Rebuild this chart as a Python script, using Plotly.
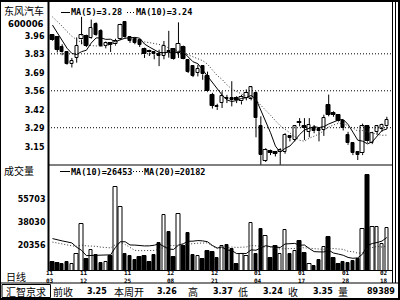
import plotly.graph_objects as go
import numpy as np

# ---------------- data ----------------
date_month = ["11", "11", "11", "12", "12", "01", "01", "01", "02"]
date_day = ["03", "12", "25", "08", "21", "04", "17", "28", "18"]
date_idx = [0, 7, 16, 25, 34, 43, 52, 61, 69]

open_ = [3.965, 3.95, 3.88, 3.84, 3.755, 3.80, 3.935, 3.96, 3.945, 4.047,
         4.00, 3.888, 3.907, 3.90, 3.94, 4.06, 3.953, 3.94, 3.93, 3.863,
         3.85, 3.84, 3.826, 3.814, 3.85, 3.865, 3.839, 3.88, 3.785, 3.74,
         3.69, 3.74, 3.667, 3.532, 3.45, 3.471, 3.51, 3.505, 3.505, 3.483,
         3.508, 3.50, 3.545, 3.30, 3.05, 3.12, 3.115, 3.11, 3.115, 3.23,
         3.20, 3.335, 3.30, 3.26, 3.29, 3.28, 3.275, 3.459, 3.40, 3.385,
         3.336, 3.238, 3.177, 3.115, 3.104, 3.30, 3.177, 3.26, 3.28, 3.30]
high = [3.975, 3.96, 3.90, 3.85, 3.80, 3.95, 4.10, 3.97, 4.08, 4.06,
        4.01, 3.92, 3.915, 3.94, 4.05, 4.07, 3.96, 3.95, 3.935, 3.875,
        3.86, 3.843, 3.86, 3.924, 3.998, 3.87, 4.06, 3.89, 3.79, 3.745,
        3.75, 3.745, 3.70, 3.545, 3.465, 3.556, 3.53, 3.63, 3.52, 3.53,
        3.57, 3.595, 3.555, 3.373, 3.14, 3.13, 3.12, 3.14, 3.25, 3.235,
        3.31, 3.36, 3.36, 3.36, 3.31, 3.29, 3.385, 3.532, 3.41, 3.39,
        3.345, 3.26, 3.185, 3.12, 3.32, 3.31, 3.26, 3.31, 3.32, 3.37]
low = [3.925, 3.84, 3.82, 3.75, 3.73, 3.765, 3.90, 3.88, 3.94, 3.96,
       3.88, 3.87, 3.843, 3.89, 3.93, 3.94, 3.91, 3.90, 3.88, 3.80,
       3.814, 3.79, 3.74, 3.79, 3.802, 3.785, 3.80, 3.79, 3.69, 3.66,
       3.665, 3.64, 3.55, 3.43, 3.42, 3.434, 3.47, 3.446, 3.47, 3.46,
       3.49, 3.49, 3.22, 3.02, 3.04, 3.09, 3.08, 3.02, 3.10, 3.19,
       3.19, 3.30, 3.20, 3.22, 3.25, 3.19, 3.23, 3.373, 3.37, 3.33,
       3.27, 3.165, 3.09, 3.054, 3.09, 3.18, 3.17, 3.24, 3.26, 3.28]
close = [3.93, 3.86, 3.84, 3.755, 3.78, 3.89, 3.965, 3.89, 4.02, 3.966,
         3.89, 3.912, 3.895, 3.925, 4.04, 3.95, 3.924, 3.912, 3.895, 3.826,
         3.84, 3.826, 3.814, 3.887, 3.84, 3.79, 3.905, 3.795, 3.70, 3.67,
         3.72, 3.68, 3.556, 3.451, 3.44, 3.52, 3.50, 3.495, 3.49, 3.516,
         3.545, 3.584, 3.36, 3.09, 3.128, 3.105, 3.10, 3.125, 3.237, 3.215,
         3.30, 3.325, 3.29, 3.31, 3.265, 3.265, 3.36, 3.385, 3.385, 3.336,
         3.287, 3.177, 3.104, 3.09, 3.30, 3.19, 3.25, 3.30, 3.31, 3.35]
volume = [7800, 7400, 6100, 8300, 6600, 14200, 37000, 9900, 17200, 12900,
          7100, 8300, 12100, 64700, 49100, 14200, 12400, 9100, 11600, 12100,
          7800, 12900, 22500, 43800, 30600, 11600, 44500, 20000, 30100, 12900,
          12400, 10400, 16200, 15400, 11200, 19700, 20500, 18000, 6100, 14200,
          12100, 37400, 13700, 33200, 27800, 11200, 19700, 13700, 32400, 14200,
          16500, 24000, 15000, 6600, 4550, 9100, 19500, 26500, 11200, 6160,
          7740, 7400, 8600, 9900, 33000, 74000, 34500, 34200, 21800, 33389]

# closes / volumes before the visible window (needed for the moving averages)
prior_close = [4.18, 4.20, 4.15, 4.12, 4.15, 4.15, 4.10, 4.05, 3.97]
prior_volume = [23000, 19000, 26000, 17500, 21500, 18500, 22000, 16300, 20500, 19500,
                13500, 17500, 15750, 14500, 47000, 60000, 50000, 16500, 13650]

price_ticks = [3.15, 3.29, 3.42, 3.56, 3.69, 3.83, 3.96]
price_tick_text = ["3.15", "3.29", "3.42", "3.56", "3.69", "3.83", "3.96"]
vol_ticks = [20356, 38030, 55703]
vol_tick_text = ["20356", "38030", "55703"]

stock_name = "东风汽车"
stock_code = "600006"

# ---------------- derived ----------------
n = len(close)
idx = list(range(n))
cc = prior_close + close
ma5 = [float(np.mean(cc[k + 5:k + 10])) for k in range(n)]
ma10 = [float(np.mean(cc[k:k + 10])) for k in range(n)]
vv = prior_volume + volume
vma10 = [float(np.mean(vv[k + 10:k + 20])) for k in range(n)]
vma20 = [float(np.mean(vv[k:k + 20])) for k in range(n)]
up = [c >= o for o, c in zip(open_, close)]
fill = ["white" if u else "black" for u in up]

uw_x, uw_y, lw_x, lw_y = [], [], [], []
for i in range(n):
    top = max(open_[i], close[i]); bot = min(open_[i], close[i])
    uw_x += [i, i, None]; uw_y += [high[i], top, None]
    lw_x += [i, i, None]; lw_y += [bot, low[i], None]

W, H = 400, 300
def X(px): return px / W
def Y(py): return 1 - py / H

MONO = "DejaVu Sans Mono"
SANS = "DejaVu Sans"
CJK = "Noto Sans CJK SC"
DOT = "1px,2px"

fig = go.Figure()
wick = dict(color="black", width=1)
fig.add_trace(go.Scatter(x=uw_x, y=uw_y, mode="lines", line=wick, xaxis="x", yaxis="y"))
fig.add_trace(go.Scatter(x=lw_x, y=lw_y, mode="lines", line=wick, xaxis="x", yaxis="y"))
fig.add_trace(go.Bar(x=idx, y=[abs(c - o) for o, c in zip(open_, close)],
                     base=[min(o, c) for o, c in zip(open_, close)], width=0.7,
                     marker=dict(color=fill, line=dict(color="black", width=1)),
                     xaxis="x", yaxis="y"))
fig.add_trace(go.Scatter(x=idx, y=ma5, mode="lines", line=dict(color="black", width=1),
                         xaxis="x", yaxis="y"))
fig.add_trace(go.Scatter(x=idx, y=ma10, mode="lines",
                         line=dict(color="#333", width=1, dash=DOT),
                         xaxis="x", yaxis="y"))
fig.add_trace(go.Bar(x=idx, y=volume, width=0.72,
                     marker=dict(color=fill, line=dict(color="black", width=1)),
                     xaxis="x", yaxis="y2"))
fig.add_trace(go.Scatter(x=idx, y=vma10, mode="lines", line=dict(color="black", width=1),
                         xaxis="x", yaxis="y2"))
fig.add_trace(go.Scatter(x=idx, y=vma20, mode="lines",
                         line=dict(color="#333", width=1, dash=DOT),
                         xaxis="x", yaxis="y2"))

shapes = []
for v in price_ticks[1::2]:
    shapes.append(dict(type="line", xref="paper", yref="y", x0=X(48), x1=X(392.5), y0=v, y1=v,
                       line=dict(color="black", width=1, dash=DOT)))
def hline(py, x0, x1, w=1, dash=None):
    shapes.append(dict(type="line", xref="paper", yref="paper", x0=X(x0), x1=X(x1),
                       y0=Y(py), y1=Y(py), line=dict(color="black", width=w, dash=dash)))
def vline(px, y0, y1, w=1):
    shapes.append(dict(type="line", xref="paper", yref="paper", x0=X(px), x1=X(px),
                       y0=Y(y0), y1=Y(y1), line=dict(color="black", width=w)))
# outer frame
hline(1, 0, 400, 2); hline(299, 0, 400, 2)
vline(0.5, 0, 300, 1); vline(399, 0, 300, 2)
# chart frame
vline(48.5, 2, 270.5, 2)
vline(392.5, 2, 283, 1); vline(395.5, 2, 283, 1)
hline(165, 48, 393); hline(270.5, 48, 393)
hline(283, 0, 400)
# legend line samples
hline(12.5, 61, 70); hline(12.5, 127, 135, 1, DOT)
hline(171.5, 60, 70); hline(171.5, 133, 143, 1, DOT)
# status box
shapes.append(dict(type="rect", xref="paper", yref="paper", x0=X(2), x1=X(50.5), y0=Y(284.5), y1=Y(297.5),
                   line=dict(color="black", width=1)))

ann = []
def text(t, px, py, size=9, family=MONO, xanchor="left", weight="normal"):
    ann.append(dict(text=t, x=X(px), y=Y(py), xref="paper", yref="paper", showarrow=False,
                    xanchor=xanchor, yanchor="middle", borderpad=0,
                    font=dict(family=family, size=size, color="black", weight=weight)))

text(stock_name, 3, 10.5, 10, CJK)
text(stock_code, 45, 24, 8.5, SANS, "right", "bold")
text("成交量", 3, 171, 10, CJK)
text("日线", 5, 276, 10, CJK)
text(f"MA(5)={ma5[-1]:.2f}", 70, 12.5, 8.5, MONO, weight="bold")
text(f"MA(10)={ma10[-1]:.2f}", 135, 12.5, 8.5, MONO, weight="bold")
text(f"MA(10)={vma10[-1]:.0f}", 70, 171.5, 8.5, MONO, weight="bold")
text(f"MA(20)={vma20[-1]:.0f}", 143, 171.5, 8.5, MONO, weight="bold")

for m, d, k in zip(date_month, date_day, date_idx):
    ann.append(dict(text=f"{m}<br>{d}", x=k, y=Y(276.5), xref="x", yref="paper", showarrow=False,
                    xanchor="center", yanchor="middle", xshift=-2.5, borderpad=0,
                    font=dict(family=MONO, size=6, color="black", weight="bold")))

prev_close = close[66]
week_open = open_[67]
week_high = max(high[67:])
week_low = min(low[67:])
week_vol = sum(volume[67:])
text("汇智京求", 26, 291, 10, CJK, "center")
text("前收", 52, 291, 10, CJK)
text(f"{prev_close:.2f}", 108, 291, 8, SANS, "right", "bold")
text("本周开", 113, 291, 10, CJK)
text(f"{week_open:.2f}", 178, 291, 8, SANS, "right", "bold")
text("高", 187, 291, 10, CJK)
text(f"{week_high:.2f}", 234, 291, 8, SANS, "right", "bold")
text("低", 237, 291, 10, CJK)
text(f"{week_low:.2f}", 284, 291, 8, SANS, "right", "bold")
text("收", 287, 291, 10, CJK)
text(f"{close[-1]:.2f}", 334, 291, 8, SANS, "right", "bold")
text("量", 337, 291, 10, CJK)
text(f"{week_vol}", 396, 291, 8, SANS, "right", "bold")

fig.update_layout(
    width=W, height=H, margin=dict(l=0, r=0, t=0, b=0),
    paper_bgcolor="white", plot_bgcolor="white", showlegend=False,
    barmode="overlay", bargap=0,
    xaxis=dict(domain=[X(48.5), X(392.5)], range=[-0.82, 70.17], anchor="y2",
               showticklabels=False, showgrid=False, zeroline=False, showline=False, ticks=""),
    yaxis=dict(domain=[Y(165), Y(2)], range=[3.0175, 4.2087], anchor="x",
               tickvals=price_ticks, ticktext=price_tick_text, ticks="",
               showgrid=False, zeroline=False, showline=False, ticklabelstandoff=3,
               tickfont=dict(family=SANS, size=8, color="black", weight="bold")),
    yaxis2=dict(domain=[Y(270.5), Y(165)], range=[1517, 81184], anchor="x",
                tickvals=vol_ticks, ticktext=vol_tick_text, ticks="",
                showgrid=False, zeroline=False, showline=False, ticklabelstandoff=2,
                tickfont=dict(family=SANS, size=8, color="black", weight="bold")),
    shapes=shapes, annotations=ann, hovermode=False,
)
fig.write_html("out.html")
